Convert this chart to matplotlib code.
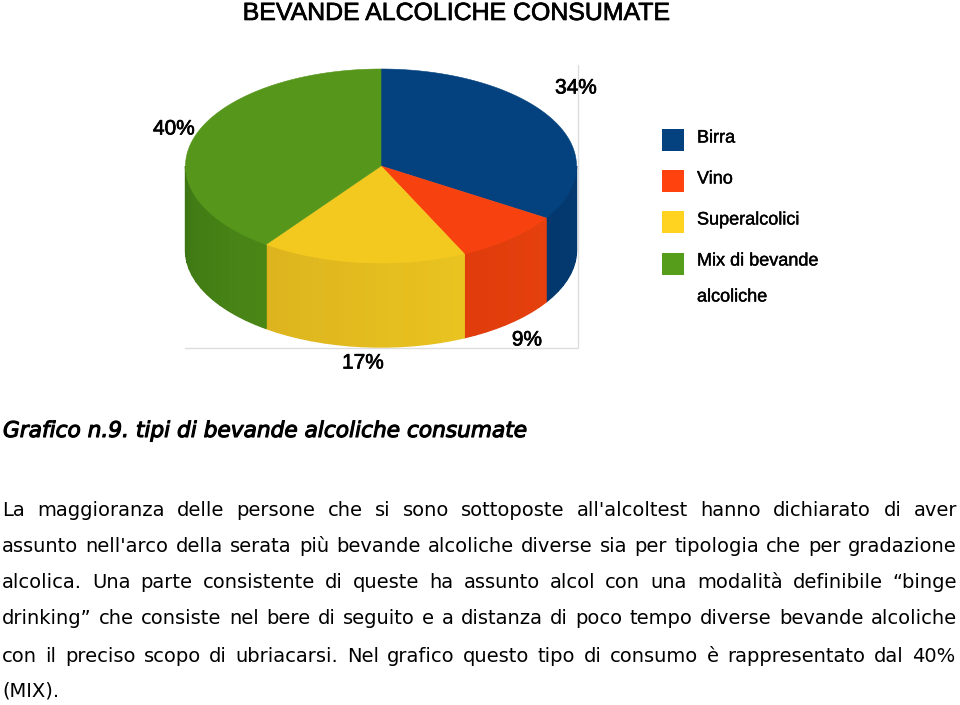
import numpy as np
import matplotlib
matplotlib.use("Agg")
import matplotlib.pyplot as plt
import matplotlib.patheffects as pe
from matplotlib.patches import Polygon, Rectangle

categories = ["Birra", "Vino", "Superalcolici", "Mix di bevande"]
values = [34, 9, 17, 40]
pct_labels = ["34%", "9%", "17%", "40%"]
top_colors = ["#03427f", "#f7420f", "#f3c91f", "#56961b"]
legend_colors = ["#03427f", "#ff420e", "#ffd320", "#579d1c"]
side_left = ["#03386e", "#e03c0c", "#dcb31e", "#3c7614"]
side_right = ["#053a72", "#e5400d", "#e9c320", "#4a8616"]

title = "BEVANDE ALCOLICHE CONSUMATE"
caption = "Grafico n.9. tipi di bevande alcoliche consumate"
body_lines = [
    "La maggioranza delle persone che si sono sottoposte all'alcoltest hanno dichiarato di aver",
    "assunto nell'arco della serata più bevande alcoliche diverse sia per tipologia che per gradazione",
    "alcolica. Una parte consistente di queste ha assunto alcol con una modalità definibile “binge",
    "drinking” che consiste nel bere di seguito e a distanza di poco tempo diverse bevande alcoliche",
    "con il preciso scopo di ubriacarsi. Nel grafico questo tipo di consumo è rappresentato dal 40%",
    "(MIX).",
]

SANS = ["Liberation Sans", "DejaVu Sans"]
fig = plt.figure(figsize=(9.6, 7.05), dpi=100)
ax = fig.add_axes([0, 0, 1, 1])
ax.set_xlim(0, 960)
ax.set_ylim(705, 0)
ax.axis("off")

cx, cy = 381, 166
rx, ry = 195.5, 97
depth = 84


def rim(t):
    # t is degrees clockwise from 12 o'clock
    a = np.radians(t)
    return np.column_stack([cx + rx * np.sin(a), cy - ry * np.cos(a)])


def mix(c1, c2, f):
    c1 = np.array(matplotlib.colors.to_rgb(c1))
    c2 = np.array(matplotlib.colors.to_rgb(c2))
    return tuple(c1 + (c2 - c1) * f)


# back frame of the chart area
ax.plot([185, 578, 578], [348, 348, 65], color="#dddddd", lw=1, zorder=1)

edges = np.concatenate([[0], np.cumsum(values)]) * 3.6

# sides, only the front half is visible
for i in range(len(values)):
    start, end = max(edges[i], 90), min(edges[i + 1], 270)
    if end <= start:
        continue
    steps = np.linspace(start, end, int((end - start) / 4) + 2)
    for s0, s1 in zip(steps[:-1], steps[1:]):
        # left end of a slice is the larger angle
        f = (end - s0) / (end - start)
        pts = rim(np.linspace(s0, s1, 6))
        quad = np.vstack([pts, pts[::-1] + [0, depth]])
        col = mix(side_left[i], side_right[i], f)
        ax.add_patch(Polygon(quad, closed=True, fc=col, ec=col, lw=1.0, zorder=2))

# top of the pie
for i in range(len(values)):
    arc = rim(np.linspace(edges[i], edges[i + 1], 120))
    pts = np.vstack([[cx, cy], arc])
    ax.add_patch(Polygon(pts, closed=True, fc=top_colors[i], ec=top_colors[i], lw=0.4, zorder=3))

stroke = [pe.withStroke(linewidth=0.5, foreground="black")]
label_pos = [(576, 88), (527, 340), (363, 363), (174, 129)]
for lab, (x, y) in zip(pct_labels, label_pos):
    ax.text(x, y, lab, family=SANS, fontsize=15, ha="center", va="center",
            color="black", path_effects=stroke)

ax.text(456, 13, title, family=SANS, fontsize=17.9, ha="center", va="center",
        color="black", path_effects=stroke)

# legend
legend_y = [140, 181, 222, 264]
text_y = [138, 179, 220, 261]
thin = [pe.withStroke(linewidth=0.3, foreground="black")]
for name, col, y0, y1 in zip(categories, legend_colors, legend_y, text_y):
    ax.add_patch(Rectangle((662, y0 - 11), 22, 22, fc=col, ec="none"))
    ax.text(697, y1, name, family=SANS, fontsize=13, va="center", color="black", path_effects=thin)
ax.text(697, 297, "alcoliche", family=SANS, fontsize=13, va="center", color="black", path_effects=thin)

ax.text(3, 431, caption, family="DejaVu Sans", style="italic", fontsize=15.6, va="center",
        color="black", path_effects=[pe.withStroke(linewidth=0.8, foreground="black")])

# justified paragraph, word by word
renderer = fig.canvas.get_renderer()
line_y = [510, 546, 583, 619, 656, 691]
line_right = [957, 957, 957, 957, 955, None]
for line, y, right in zip(body_lines, line_y, line_right):
    words = [ax.text(0, y, w, family="DejaVu Sans", fontsize=14, va="center", color="black")
             for w in line.split(" ")]
    widths = [w.get_window_extent(renderer).width for w in words]
    if right is None:
        gap = 6
    else:
        gap = (right - 2 - sum(widths)) / max(len(words) - 1, 1)
    x = 2
    for w, wid in zip(words, widths):
        w.set_x(x)
        x += wid + gap

fig.savefig("out.png", dpi=100, facecolor="white")
